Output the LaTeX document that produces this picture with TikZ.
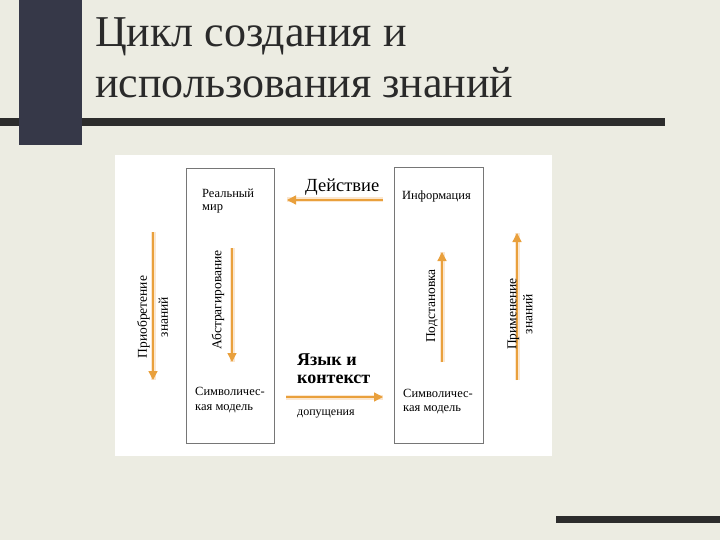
\documentclass[tikz,border=0pt]{standalone}
\usepackage{fontspec}
\setmainfont{Liberation Serif}
\usetikzlibrary{arrows.meta,positioning}

\definecolor{bgc}{HTML}{ECECE2}
\definecolor{barc}{HTML}{363848}
\definecolor{rulec}{HTML}{2C2C2C}
\definecolor{boxc}{HTML}{767676}
\definecolor{arrowc}{HTML}{E9A03C}
\definecolor{glowc}{HTML}{FBE7D0}
\definecolor{inkc}{HTML}{2A2A2A}

\begin{document}
\begin{tikzpicture}[x=1pt,y=-1pt,
    title/.style={anchor=base west,inner sep=0pt,text=inkc,font=\fontsize{44}{51}\selectfont},
    lbl/.style={anchor=base west,inner sep=0pt,font=\fontsize{12.5}{14}\selectfont},
    biglbl/.style={anchor=base west,inner sep=0pt,font=\fontsize{18.5}{20}\selectfont},
    vlbl/.style={rotate=90,inner sep=0pt,align=center,font=\fontsize{13.5}{16}\selectfont},
    panel/.style={draw=boxc,line width=0.9pt,inner sep=0pt},
    flow/.style={draw=arrowc,line width=1.3pt,-{Triangle[width=9pt,length=9pt]},
      preaction={draw=glowc,line width=5pt,-}}]
  % slide background
  \useasboundingbox (0,0) rectangle (720,540);
  \fill[bgc] (0,0) rectangle (720,540);
  \fill[rulec] (0,118) rectangle (665,126);
  \fill[barc] (19,0) rectangle (82,145);
  \fill[rulec] (556,516) rectangle (720,523);
  \fill[white] (115,155) rectangle (552,456);

  % title
  \node[title] (title1) at (95,47) {Цикл создания и};
  \node[title] (title2) at (95,98) {использования знаний};

  % the two columns
  \node[panel,minimum width=88pt,minimum height=275pt] (leftbox)  at (230,305.5) {};
  \node[panel,minimum width=89pt,minimum height=276pt] (rightbox) at (438.5,305) {};

  \node[lbl] (realw)  at (202,197) {Реальный};
  \node[lbl] (realw2) at (202,211) {мир};
  \node[lbl] (info)   at (402,200) {Информация};
  \node[lbl] (symL1)  at (195,395) {Символичес-};
  \node[lbl] (symL2)  at (195,410) {кая модель};
  \node[lbl] (symR1)  at (403,397) {Символичес-};
  \node[lbl] (symR2)  at (403,411) {кая модель};

  \node[biglbl] (action) at (305,192) {Действие};
  \node[biglbl,font=\fontsize{18}{20}\selectfont\bfseries] (lang1) at (297,365) {Язык и};
  \node[biglbl,font=\fontsize{18}{20}\selectfont\bfseries] (lang2) at (297,383) {контекст};
  \node[lbl,font=\fontsize{12}{14}\selectfont] (assum) at (297,415) {допущения};

  % arrows
  \coordinate (actS) at (383,200);
  \coordinate (actE) at (287,200);
  \coordinate (asmS) at (286,397);
  \coordinate (asmE) at (383,397);
  \coordinate (acqS) at (153,232);
  \coordinate (acqE) at (153,380);
  \coordinate (absS) at (232,248);
  \coordinate (absE) at (232,362);
  \coordinate (subS) at (442,362);
  \coordinate (subE) at (442,252);
  \coordinate (aplS) at (517,380);
  \coordinate (aplE) at (517,233);
  \path[flow] (actS) -- (actE);
  \path[flow] (asmS) -- (asmE);
  \path[flow] (acqS) -- (acqE);
  \path[flow] (absS) -- (absE);
  \path[flow] (subS) -- (subE);
  \path[flow] (aplS) -- (aplE);

  % rotated labels
  \node[vlbl,font=\fontsize{13.5}{21}\selectfont] (acq) at (152.5,317) {Приобретение\\знаний};
  \node[vlbl] (abstr) at (218,300) {Абстрагирование};
  \node[vlbl] (subst) at (432,306) {Подстановка};
  \node[vlbl] (appl)  at (520,314) {Применение\\знаний};
\end{tikzpicture}
\end{document}
